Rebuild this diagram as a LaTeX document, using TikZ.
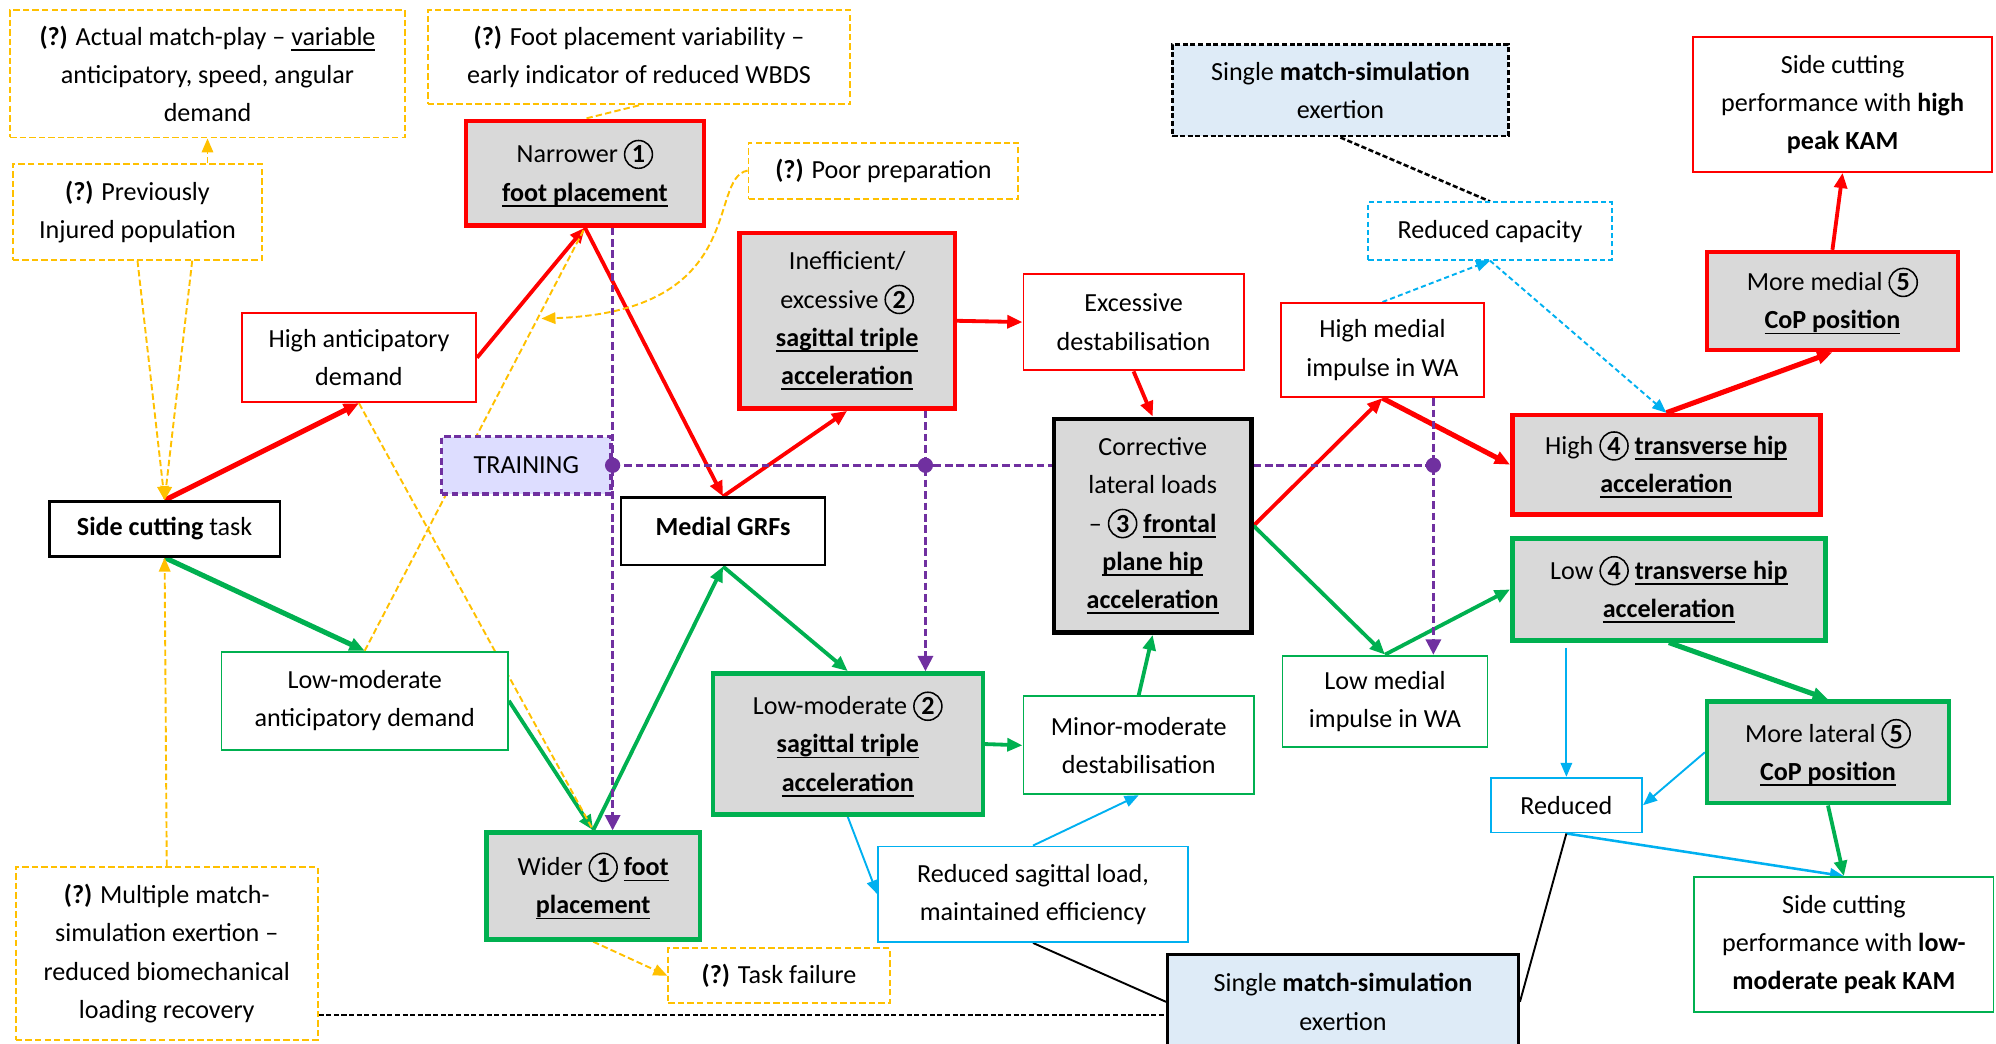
\documentclass[tikz,border=0pt]{standalone}
\usepackage{fontspec}
\setmainfont{Carlito}
\usetikzlibrary{arrows.meta}
\pgfdeclarelayer{background}
\pgfsetlayers{background,main}
\definecolor{ylw}{HTML}{FFC000}
\definecolor{grn}{HTML}{00B050}
\definecolor{cyn}{HTML}{00B0F0}
\definecolor{purp}{HTML}{7030A0}
\definecolor{boxgray}{HTML}{D9D9D9}
\definecolor{paleblue}{HTML}{DEEBF7}
\definecolor{lavender}{HTML}{DDDDFF}
\newsavebox{\ulbox}
\newcommand{\ulx}[1]{\sbox{\ulbox}{#1}\rlap{\vrule height -3pt depth 4.3pt width \wd\ulbox}\usebox{\ulbox}}
\newcommand{\cnum}[1]{\tikz[baseline=(cn.base)]\node[circle,draw=black,fill=none,text=black,line width=1.2pt,inner sep=1.8pt,minimum size=0pt,solid,font=\fontsize{20.5}{30}\selectfont\bfseries](cn){#1};}
\newcommand{\bu}[1]{\ulx{\textbf{#1}}}

\begin{document}
\begin{tikzpicture}[x=1pt,y=-1pt,
    plain/.style={draw, fill=white, align=center, inner sep=1pt, line width=1.5pt, font=\fontsize{20.5}{30}\selectfont},
    sz/.style 2 args={minimum width=#1pt, minimum height=#2pt},
    redbox/.style={plain, draw=red},
    redthick/.style={plain, draw=red, fill=boxgray, line width=3.5pt},
    grnbox/.style={plain, draw=grn},
    grnthick/.style={plain, draw=grn, fill=boxgray, line width=3.5pt},
    ylwbox/.style={plain, draw=ylw, dash pattern=on 5pt off 2.5pt},
    cynbox/.style={plain, draw=cyn},
    bluebox/.style={plain, fill=paleblue, line width=2pt},
    redarr/.style={draw=red, line width=3pt, -{Triangle[length=12pt,width=10pt]}},
    grnarr/.style={draw=grn, line width=3pt, -{Triangle[length=12pt,width=10pt]}},
    heavy/.style={line width=4pt},
    cynarr/.style={draw=cyn, line width=1.5pt, -{Triangle[length=11pt,width=9pt]}},
    cyndash/.style={cynarr, dash pattern=on 4pt off 2.5pt},
    ylwline/.style={draw=ylw, line width=1.5pt, dash pattern=on 5pt off 2.5pt},
    ylwarr/.style={ylwline, -{Triangle[length=11pt,width=9pt]}},
    purpline/.style={draw=purp, line width=2pt, dash pattern=on 6pt off 3pt},
    purparr/.style={purpline, -{Triangle[length=12pt,width=12pt]}},
    blkline/.style={draw=black, line width=1.5pt},
    blkdash/.style={blkline, line width=2pt, dash pattern=on 4pt off 2pt}]
  \useasboundingbox (0,0) rectangle (1568,820);

  % question boxes
  \node[ylwbox, sz={310}{100}] (matchplay) at (163,58) {\textbf{(?)} Actual match-play – \ulx{variable}\\anticipatory, speed, angular\\demand};
  \node[ylwbox, sz={332}{74}] (fpvar) at (502,45) {\textbf{(?)} Foot placement variability –\\early indicator of reduced WBDS};
  \node[ylwbox, sz={196}{75}] (previnj) at (108,166.5) {\textbf{(?)} Previously\\Injured population};
  \node[ylwbox, sz={212}{44}] (poorprep) at (694,134) {\textbf{(?)} Poor preparation};
  \node[ylwbox, sz={174}{43}] (taskfail) at (612,766.5) {\textbf{(?)} Task failure};
  \node[ylwbox, sz={237}{136}] (multimatch) at (131,749) {\textbf{(?)} Multiple match-\\simulation exertion –\\reduced biomechanical\\loading recovery};

  % exertion
  \node[bluebox, dash pattern=on 4pt off 2pt, sz={264}{72}] (singletop) at (1053,71) {Single \textbf{match-simulation}\\exertion};
  \node[cynbox, dash pattern=on 4pt off 2.5pt, sz={191}{45}] (redcap) at (1170.5,181.5) {Reduced capacity};
  \node[bluebox, sz={276}{74}] (singlebot) at (1055,787) {Single \textbf{match-simulation}\\exertion};

  % high KAM pathway
  \node[redbox, sz={184}{70}] (highant) at (282,281) {High anticipatory\\demand};
  \node[redthick, sz={187}{82}] (narrow) at (459.5,136) {Narrower \cnum{1}\\\bu{foot placement}};
  \node[redthick, sz={169}{138}] (ineff) at (665.5,252) {Inefficient/\\excessive \cnum{2}\\\bu{sagittal triple}\\\bu{acceleration}};
  \node[redbox, sz={173}{76}] (excdest) at (890.5,253) {Excessive\\destabilisation};
  \node[redbox, sz={160}{74}] (highmed) at (1086,275) {High medial\\impulse in WA};
  \node[redthick, sz={242}{78}] (highhip) at (1309,365) {High \cnum{4} \bu{transverse hip}\\\bu{acceleration}};
  \node[redthick, sz={197}{77}] (moremed) at (1439.5,236.5) {More medial \cnum{5}\\\bu{CoP position}};
  \node[redbox, sz={235}{106}] (perfhigh) at (1447.5,82) {Side cutting\\performance with \textbf{high}\\\textbf{peak KAM}};

  % shared
  \node[plain, line width=2pt, sz={181}{43}] (sidecut) at (129.3,415.5) {\textbf{Side cutting} task};
  \node[plain, line width=2pt, sz={160}{53}, text depth=8pt] (medgrf) at (568,417.5) {\textbf{Medial GRFs}};
  \node[plain, draw=purp, fill=lavender, line width=2.5pt, dash pattern=on 5pt off 3pt, sz={133}{45}] (training) at (413.5,365.5) {TRAINING};
  \node[plain, fill=boxgray, line width=3.5pt, sz={155}{168}] (corrective) at (905.5,413) {Corrective\\lateral loads\\– \cnum{3} \bu{frontal}\\\bu{plane hip}\\\bu{acceleration}};

  % low KAM pathway
  \node[grnbox, sz={225}{77}] (lowant) at (286.5,550.5) {Low-moderate\\anticipatory demand};
  \node[grnthick, sz={168}{84}] (wider) at (466,696) {Wider \cnum{1} \bu{foot}\\\bu{placement}};
  \node[grnthick, sz={212}{111}] (lowsag) at (666,584.5) {Low-moderate \cnum{2}\\\bu{sagittal triple}\\\bu{acceleration}};
  \node[grnbox, sz={181}{77}] (minordest) at (894.5,585.5) {Minor-moderate\\destabilisation};
  \node[grnbox, sz={161}{72}] (lowmed) at (1088,551) {Low medial\\impulse in WA};
  \node[grnthick, sz={246}{80}] (lowhip) at (1311,463) {Low \cnum{4} \bu{transverse hip}\\\bu{acceleration}};
  \node[grnthick, sz={190}{80}] (morelat) at (1436,591) {More lateral \cnum{5}\\\bu{CoP position}};
  \node[grnbox, sz={235}{106}] (perflow) at (1448.5,742) {Side cutting\\performance with \textbf{low-}\\\textbf{moderate peak KAM}};
  \node[cynbox, sz={243}{75}] (redsag) at (811.5,702.5) {Reduced sagittal load,\\maintained efficiency};
  \node[cynbox, sz={119}{43}] (reduced) at (1230.5,632.5) {Reduced};

  \coordinate (d2) at (727,365.5);
  \coordinate (d3) at (1126,365.5);
  \coordinate (sbw) at ([yshift=-10.5pt]singlebot.west);

  \begin{pgfonlayer}{background}
    % red
    \draw[redarr, heavy] (sidecut.north) -- (highant.south);
    \draw[redarr] (highant.east) -- (narrow.south);
    \draw[redarr] (narrow.south) -- (medgrf.north);
    \draw[redarr] (medgrf.north) -- (ineff.south);
    \draw[redarr] (ineff.east) -- (excdest.west);
    \draw[redarr] (excdest.south) -- (corrective.north);
    \draw[redarr] (corrective.east) -- (highmed.south);
    \draw[redarr, heavy] (highmed.south) -- (highhip.west);
    \draw[redarr, heavy] (highhip.north) -- (moremed.south);
    \draw[redarr] (moremed.north) -- (perfhigh.south);
    % green
    \draw[grnarr, heavy] (sidecut.south) -- (lowant.north);
    \draw[grnarr] (lowant.east) -- (wider.north);
    \draw[grnarr] (wider.north) -- (medgrf.south);
    \draw[grnarr] (medgrf.south) -- (lowsag.north);
    \draw[grnarr] (lowsag.east) -- (minordest.west);
    \draw[grnarr] (minordest.north) -- (corrective.south);
    \draw[grnarr] (corrective.east) -- (lowmed.north);
    \draw[grnarr] (lowmed.north) -- (lowhip.west);
    \draw[grnarr, heavy] (lowhip.south) -- (morelat.north);
    \draw[grnarr] (morelat.south) -- (perflow.north);
    % blue
    \draw[cynarr] (lowsag.south) -- (redsag.west);
    \draw[cynarr] (redsag.north) -- (minordest.south);
    \draw[cynarr] ([yshift=-4pt]reduced.north |- lowhip.south) -- (reduced.north);
    \draw[cynarr] (morelat.west) -- (reduced.east);
    \draw[cynarr, line width=2pt] (reduced.south) -- (perflow.north);
    \draw[cyndash] (highmed.north) -- (redcap.south);
    \draw[cyndash] (redcap.south) -- (highhip.north);
    % black
    \draw[blkdash] (singletop.south) -- (redcap.north);
    \draw[blkline] (redsag.south) -- (singlebot.west);
    \draw[blkline] (reduced.south) -- (singlebot.east);
    \draw[blkdash] (sbw -| multimatch.east) -- (sbw);
    % yellow
    \draw[ylwarr] (matchplay.south |- previnj.north) -- (matchplay.south);
    \draw[ylwarr] (previnj.south) -- (sidecut.north);
    \draw[ylwarr] ([xshift=43pt]previnj.south) -- (sidecut.north);
    \draw[ylwarr] (multimatch.north) -- (sidecut.south);
    \draw[ylwline] (fpvar.south) -- (narrow.north);
    \draw[ylwline] (lowant.north) -- (narrow.south) coordinate[pos=0.785] (prephit);
    \draw[ylwline] (highant.south) -- (wider.north);
    \draw[ylwarr] (poorprep.west) .. controls (555,140) and (590,245) .. ([xshift=3pt]prephit);
    \draw[ylwarr] (wider.south) -- (taskfail.west);
    % training
    \draw[purpline] (training.east) -- (corrective.west |- training.east);
    \draw[purpline] (corrective.east |- training.east) -- (d3);
    \draw[purparr] (training.east |- narrow.south) -- (training.east |- wider.north);
    \draw[purparr] (d2 |- ineff.south) -- (d2 |- lowsag.north);
    \draw[purparr] (d3 |- highmed.south) -- (d3 |- lowmed.north);
  \end{pgfonlayer}

  \foreach \d in {training.east, d2, d3}
    \fill[purp] (\d) circle (6pt);
\end{tikzpicture}
\end{document}
